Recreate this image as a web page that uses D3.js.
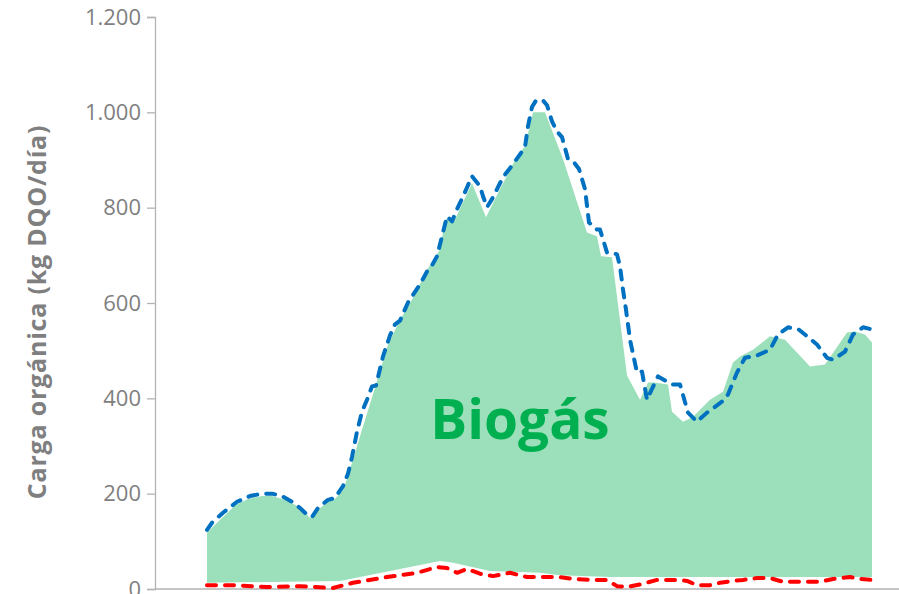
<!DOCTYPE html>
<html>
<head>
<meta charset="utf-8">
<script src="https://cdn.jsdelivr.net/npm/d3@7"></script>
<style>
  html, body { margin: 0; padding: 0; background: #ffffff; }
  svg { display: block; }
</style>
</head>
<body>
<svg id="chart" width="899" height="594"></svg>
<script>
// Sampling day (from start of campaign) and organic load, kg DQO/día

// Total organic load in (blue dashed line)
const loadDays = [0, 2.5, 8, 15, 21.5, 27.5, 32.5, 37.5, 42.5, 46.5, 50, 52.5, 55.5, 60.5, 64, 68, 70.5, 72.5, 75, 77.5, 80, 82.5, 84.5, 88, 91.5, 94, 96.5, 100.5, 106.5, 110, 112, 115, 117.5, 120, 122.5, 124.5, 128.5, 132.5, 136.5, 138, 140, 142.5, 148, 153, 156.5, 159, 160.5, 162.5, 164.5, 168, 170, 172.5, 175, 177.5, 180.5, 183.5, 186, 189, 191, 195, 196.5, 200, 203.5, 205, 206.5, 208, 209.5, 211.5, 215, 217.5, 220, 222.5, 225.5, 232.5, 236.5, 240.5, 245, 250, 257.5, 260.5, 265, 269, 275, 281.5, 285.5, 290.5, 296, 305, 310, 313, 319, 323, 328, 333];
const loadVals = [124, 139, 160, 183, 195, 200, 200, 195, 183, 170, 156, 151, 170, 187, 191, 216, 242, 277, 330, 372, 397, 425, 427, 488, 532, 555, 563, 601, 639, 666, 675, 698, 740, 782, 771, 792, 828, 866, 845, 824, 801, 818, 864, 891, 912, 927, 971, 1011, 1025, 1025, 1015, 981, 960, 948, 902, 895, 881, 839, 769, 754, 754, 706, 704, 702, 677, 628, 586, 523, 454, 456, 397, 420, 446, 429, 429, 370, 351, 370, 393, 408, 454, 485, 490, 502, 534, 549, 544, 513, 485, 481, 498, 534, 549, 544, 536];

// Load converted to biogás (upper edge of green band)
const biogasDays = [0, 4, 8, 14.5, 20.5, 27.5, 32.5, 39, 44, 48, 51.5, 55.5, 60.5, 64, 68, 70, 77.5, 84, 90.5, 96.5, 102.5, 110, 116.5, 119, 121, 123, 132.5, 139.5, 146.5, 155, 159, 163, 169, 178, 190, 195, 197, 202.5, 210, 216.5, 220.5, 223.5, 230.5, 232.5, 238, 243, 246.5, 251.5, 258, 263, 266.5, 273, 281.5, 289, 301.5, 309, 320, 324, 329, 332.5];
const biogasVals = [118, 135, 151, 177, 189, 195, 195, 187, 177, 164, 149, 166, 183, 189, 208, 231, 334, 422, 513, 565, 607, 670, 712, 773, 780, 767, 851, 780, 839, 908, 929, 1000, 1000, 902, 748, 740, 698, 696, 448, 397, 433, 433, 429, 372, 351, 361, 376, 397, 414, 475, 488, 502, 530, 523, 467, 471, 538, 540, 534, 517];

// Lower edge of green band
const baseDays = [0, 66.5, 116.5, 123, 141.5, 166.5, 176.5, 201.5, 332.5];
const baseVals = [13, 17, 59, 55, 38, 34, 29, 25, 25];

// Residual load in effluent (red dashed line)
const outDays = [0, 13, 30, 46.5, 63, 66.5, 73, 90, 105, 115, 120, 125, 130, 136.5, 143, 151.5, 160, 168, 176.5, 183, 193, 200, 205, 210, 218, 225, 235, 240, 245, 251.5, 256.5, 263, 268, 275, 281.5, 288, 295, 300, 306.5, 313, 321.5, 326.5, 333];
const outVals = [8, 8, 4, 6, 2, 6, 13, 25, 34, 46, 44, 34, 42, 32, 27, 34, 25, 25, 25, 21, 19, 19, 6, 4, 11, 19, 19, 17, 8, 8, 13, 17, 19, 23, 23, 15, 15, 15, 15, 21, 25, 21, 19];

const yTicks = [0, 200, 400, 600, 800, 1000, 1200];
const yTitle = "Carga orgánica (kg DQO/día)";
const areaLabel = "Biogás";

const svg = d3.select("#chart");
const plotLeft = 155, plotRight = 899, plotTop = 17, plotBottom = 589;

const x = d3.scaleLinear().domain([0, 333]).range([207, 873]);
const y = d3.scaleLinear().domain([0, 1200]).range([plotBottom, plotTop]);

const fmt = v => d3.format(",")(v).replace(/,/g, ".");

// Green band: biogás upper edge, then the lower edge back to the start
const upper = biogasDays.map((d, i) => [d, biogasVals[i]]);
const lower = baseDays.map((d, i) => [d, baseVals[i]]).reverse();
const poly = d3.line().x(p => x(p[0])).y(p => y(p[1]));
svg.append("path")
  .attr("d", poly(upper.concat(lower)) + "Z")
  .attr("fill", "#9ce0bb")
  .attr("stroke", "none");

// Axes
const yAxis = d3.axisLeft(y).tickValues(yTicks).tickSize(8).tickPadding(6).tickFormat(fmt);
const gy = svg.append("g").attr("transform", `translate(${plotLeft},0)`).call(yAxis);
gy.select(".domain").attr("stroke", "#b3b3b3").attr("stroke-width", 1.3);
gy.selectAll(".tick line").attr("stroke", "#b3b3b3").attr("stroke-width", 1.3);
gy.selectAll(".tick text")
  .attr("fill", "#7f7f7f")
  .style("font-family", "'Open Sans', sans-serif")
  .style("font-size", "22px");

svg.append("line")
  .attr("x1", plotLeft).attr("x2", plotRight)
  .attr("y1", y(0)).attr("y2", y(0))
  .attr("stroke", "#b3b3b3").attr("stroke-width", 1.3);

// Lines
const line = d3.line().x(p => x(p[0])).y(p => y(p[1]));
svg.append("path")
  .attr("d", line(outDays.map((d, i) => [d, outVals[i]])))
  .attr("fill", "none")
  .attr("stroke", "#ff0000")
  .attr("stroke-width", 4)
  .attr("stroke-linecap", "round")
  .attr("stroke-linejoin", "round")
  .attr("stroke-dasharray", "9,9");

svg.append("path")
  .attr("d", line(loadDays.map((d, i) => [d, loadVals[i]])))
  .attr("fill", "none")
  .attr("stroke", "#0070c0")
  .attr("stroke-width", 4)
  .attr("stroke-linecap", "round")
  .attr("stroke-linejoin", "round")
  .attr("stroke-dasharray", "9,9");

// Texts
svg.append("text")
  .attr("transform", "translate(46,312) rotate(-90)")
  .attr("text-anchor", "middle")
  .attr("fill", "#7f7f7f")
  .style("font-family", "'Open Sans', sans-serif")
  .style("font-weight", "bold")
  .style("font-size", "25px")
  .style("letter-spacing", "0.8px")
  .text(yTitle);

svg.append("text")
  .attr("x", 520).attr("y", 439)
  .attr("text-anchor", "middle")
  .attr("fill", "#00b050")
  .style("font-family", "'Open Sans', sans-serif")
  .style("font-weight", "bold")
  .style("font-size", "55px")
  .text(areaLabel);
</script>
</body>
</html>
